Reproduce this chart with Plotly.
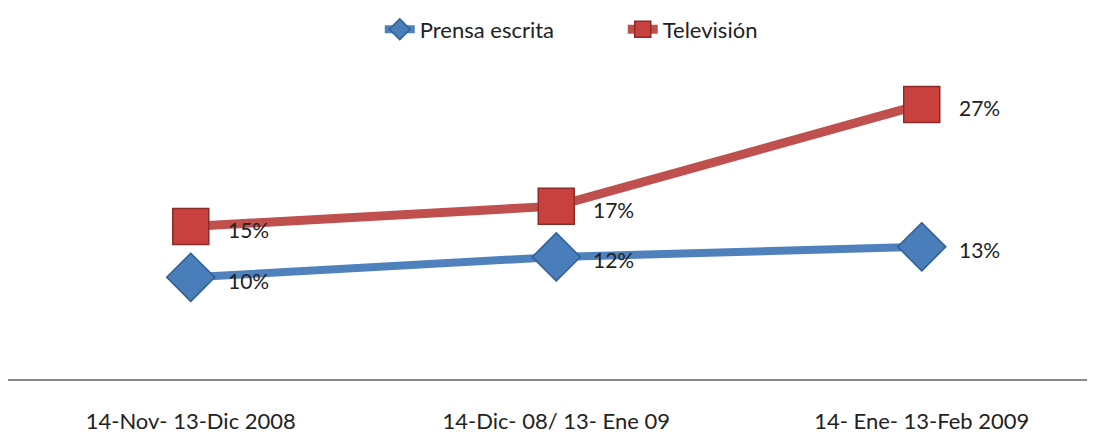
import plotly.graph_objects as go

periodos = ['14-Nov- 13-Dic 2008', '14-Dic- 08/ 13- Ene 09', '14- Ene- 13-Feb 2009']
prensa = [10, 12, 13]
television = [15, 17, 27]

x = list(range(len(periodos)))
font_family = 'Lato, Open Sans, sans-serif'
text_color = '#222222'

prensa_trace = go.Scatter(
    x=x, y=prensa, mode='lines+markers', name='Prensa escrita',
    line=dict(color='#4F81BD', width=8),
    marker=dict(symbol='diamond', size=37, color='#4A7EBB', line=dict(color='#2F5E93', width=1.5)),
)
tv_trace = go.Scatter(
    x=x, y=television, mode='lines+markers', name='Televisión',
    line=dict(color='#C0504D', width=9),
    marker=dict(symbol='square', size=36, color='#C8413E', line=dict(color='#8C2A28', width=1.5)),
)

annotations = []
for ys in [prensa, television]:
    for xi, yi in zip(x, ys):
        annotations.append(dict(
            x=xi, y=yi, text=f'{yi}%', showarrow=False,
            xanchor='left', yanchor='middle', xshift=35, yshift=-3,
            font=dict(family=font_family, size=21, color=text_color),
        ))

# the page body has an 8px margin, so the figure is sized to fill the rest of the window
# plot area runs to the top so the legend can sit inside it
layout = go.Layout(
    width=1087, height=426,
    margin=dict(l=0, r=0, t=0, b=51),
    paper_bgcolor='white', plot_bgcolor='white',
    showlegend=True,
    legend=dict(orientation='h', x=0.342, xanchor='left', y=0.963, yanchor='middle',
                entrywidth=198, entrywidthmode='pixels', bgcolor='rgba(0,0,0,0)',
                font=dict(family=font_family, size=22, color=text_color)),
    xaxis=dict(range=[-0.5, 2.474], tickvals=x, ticktext=periodos, showgrid=False,
               zeroline=False, showline=True, linecolor='#8A8A8A', linewidth=2,
               ticks='', ticklabelstandoff=22,
               tickfont=dict(family=font_family, size=22, color=text_color)),
    yaxis=dict(range=[0, 35.7], visible=False, showgrid=False, zeroline=False),
    annotations=annotations,
)

fig = go.Figure(data=[prensa_trace, tv_trace], layout=layout)
fig.write_html('out.html')
